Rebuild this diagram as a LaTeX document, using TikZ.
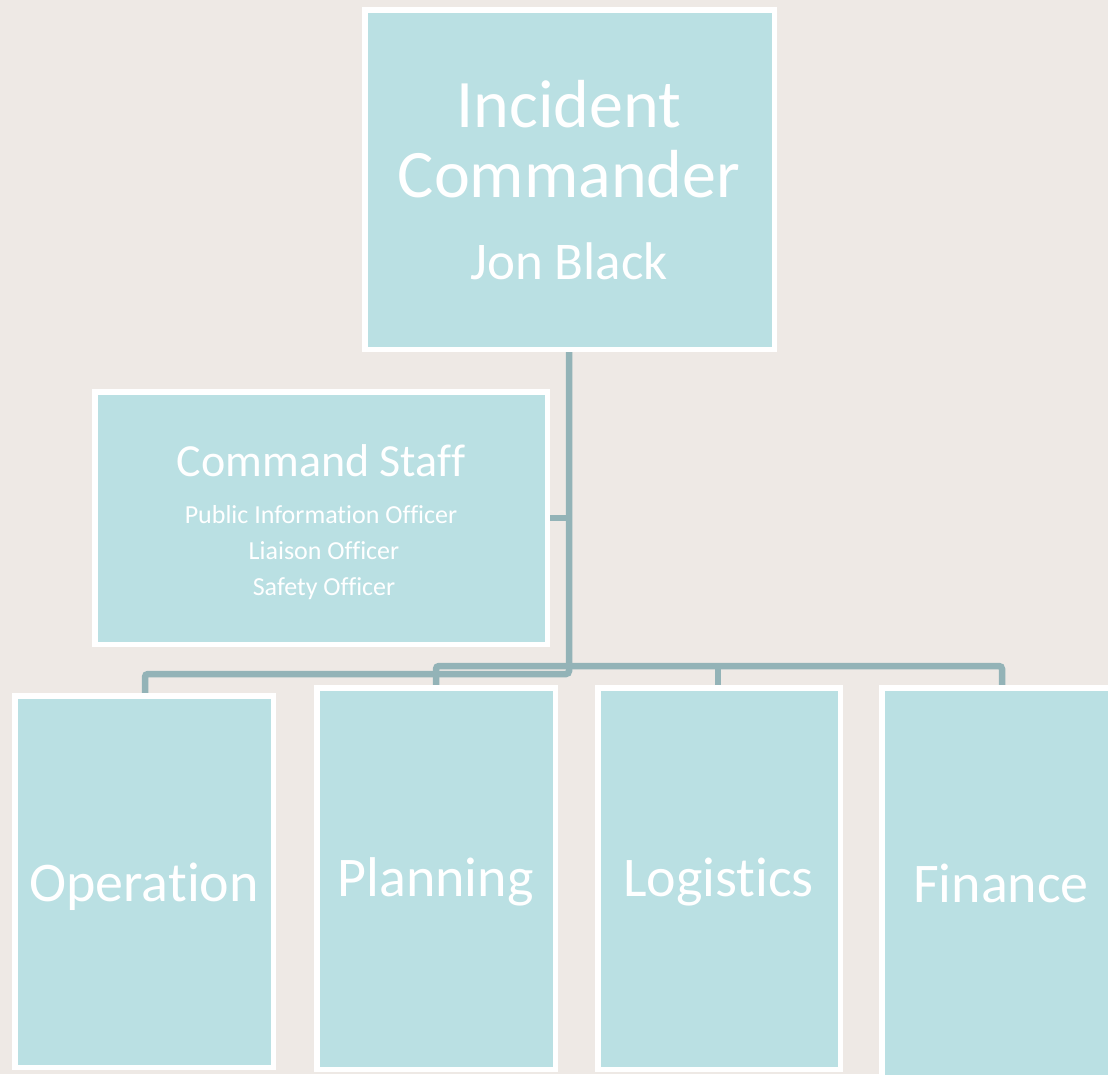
\documentclass[tikz,border=0pt]{standalone}
\usepackage{fontspec}
\setmainfont{Carlito}[RawFeature=-liga]
\definecolor{bgc}{HTML}{EEE9E5}
\definecolor{boxc}{HTML}{BAE0E3}
\definecolor{linec}{HTML}{93B3B7}
\begin{document}
\begin{tikzpicture}[x=1pt,y=-1pt,
  orgbox/.style={draw=white,fill=boxc,line width=5.5pt,inner sep=0pt,outer sep=0pt,rectangle},
  conn/.style={draw=linec,line width=6.5pt,rounded corners=3pt},
  lbl/.style={text=white,anchor=base,inner sep=0pt,outer sep=0pt}]
\useasboundingbox[fill=bgc] (0,0) rectangle (1108,1074);
% connector coordinates
\coordinate (jA) at (569,674);
\coordinate (jOp) at (145,674);
\coordinate (hL) at (436,666);
\coordinate (hM) at (718,666);
\coordinate (hR) at (1002,666);
\coordinate (jCS) at (569,518);
% connectors
\draw[conn] (569,349) -- (jA) -- (jOp) -- (145,696);
\draw[conn] (436,688) -- (hL) -- (hR) -- (1002,688);
\draw[conn] (hM) -- (718,688);
\draw[conn] (547,518) -- (jCS);
% boxes
\node[orgbox,minimum width=409.5pt,minimum height=339.5pt] (ic) at (569.5,179.5) {};
\node[orgbox,minimum width=452.5pt,minimum height=252.5pt] (cs) at (321,518) {};
\node[orgbox,minimum width=258.5pt,minimum height=371.5pt] (op) at (144,881.5) {};
\node[orgbox,minimum width=238.5pt,minimum height=381.5pt] (pl) at (436,878.5) {};
\node[orgbox,minimum width=242.5pt,minimum height=381.5pt] (lo) at (719,878.5) {};
\node[orgbox,minimum width=260pt,minimum height=400pt] (fi) at (1011.75,887.75) {};
% texts
\node[lbl,font=\fontsize{68}{68}\selectfont] (t1) at (569,127) {Incident};
\node[lbl,font=\fontsize{68}{68}\selectfont] (t2) at (569,197) {Commander};
\node[lbl,font=\fontsize{53}{53}\selectfont] (t3) at (569,279) {Jon Black};
\node[lbl,font=\fontsize{46}{46}\selectfont] (t4) at (321,476) {Command Staff};
\node[lbl,font=\fontsize{26}{26}\selectfont] (t5) at (321,523) {Public Information Officer};
\node[lbl,font=\fontsize{26}{26}\selectfont] (t6) at (324,559) {Liaison Officer};
\node[lbl,font=\fontsize{26}{26}\selectfont] (t7) at (324,595) {Safety Officer};
\node[lbl,font=\fontsize{56}{56}\selectfont] (t8) at (144,901) {Operation};
\node[lbl,font=\fontsize{56}{56}\selectfont] (t9) at (435.5,896) {Planning};
\node[lbl,font=\fontsize{56}{56}\selectfont] (t10) at (718.5,896) {Logistics};
\node[lbl,font=\fontsize{56}{56}\selectfont] (t11) at (1001,902) {Finance};
\end{tikzpicture}
\end{document}
